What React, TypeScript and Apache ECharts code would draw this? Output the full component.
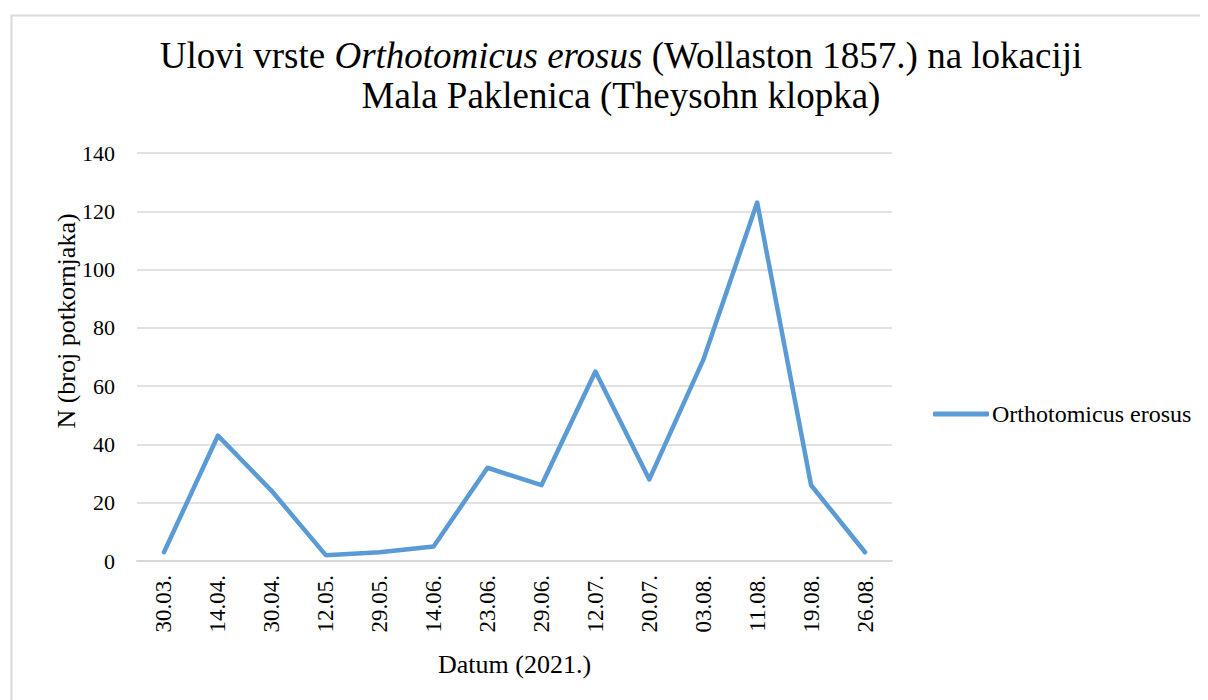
import React, { useEffect, useRef } from "react";
import * as echarts from "echarts";

const categories = ["30.03.", "14.04.", "30.04.", "12.05.", "29.05.", "14.06.", "23.06.", "29.06.", "12.07.", "20.07.", "03.08.", "11.08.", "19.08.", "26.08."];
const values = [3, 43, 24, 2, 3, 5, 32, 26, 65, 28, 69, 123, 26, 3];
const seriesName = "Orthotomicus erosus";
const yTicks = { min: 0, max: 140, interval: 20 };

const FONT = "Liberation Serif";

export default function App() {
  const ref = useRef<HTMLDivElement>(null);
  useEffect(() => {
    if (!ref.current) return;
    const chart = echarts.init(ref.current, undefined, { renderer: "svg" });
    chart.setOption({
      animation: false,
      backgroundColor: "#ffffff",
      textStyle: { fontFamily: FONT },
      title: {
        text: "{n|Ulovi vrste }{i|Orthotomicus erosus}{n| (Wollaston 1857.) na lokaciji}\n{n|Mala Paklenica (Theysohn klopka)}",
        left: 608,
        textAlign: "center",
        top: 22,
        textStyle: {
          fontFamily: FONT,
          fontSize: 37,
          fontWeight: "normal",
          color: "#000",
          lineHeight: 40,
          rich: {
            n: { fontFamily: FONT, fontSize: 37, color: "#000", lineHeight: 40 },
            i: { fontFamily: FONT, fontSize: 37, fontStyle: "italic", color: "#000", lineHeight: 40 },
          },
        },
      },
      legend: {
        left: 920,
        top: 389,
        itemWidth: 56,
        itemHeight: 5,
        itemGap: 4,
        textStyle: { fontFamily: FONT, fontSize: 24, color: "#000", padding: [0, 0, 0, -2] },
        data: [{ name: seriesName, icon: "roundRect" }],
      },
      grid: { left: 129, right: 316, top: 145, bottom: 139, containLabel: false },
      xAxis: {
        type: "category",
        data: categories,
        boundaryGap: true,
        name: "Datum (2021.)",
        nameLocation: "middle",
        nameGap: 90,
        nameTextStyle: { fontFamily: FONT, fontSize: 26, color: "#000" },
        axisLine: { lineStyle: { color: "#d9d9d9", width: 2 } },
        axisTick: { show: false },
        axisLabel: { rotate: 90, fontFamily: FONT, fontSize: 23, color: "#000", margin: 14, interval: 0 },
      },
      yAxis: {
        type: "value",
        min: yTicks.min,
        max: yTicks.max,
        interval: yTicks.interval,
        axisLine: { show: false },
        axisTick: { show: false },
        axisLabel: { fontFamily: FONT, fontSize: 22, color: "#000", margin: 22 },
        splitLine: { lineStyle: { color: "#d9d9d9", width: 1.5 } },
      },
      graphic: [
        {
          type: "rect",
          left: 1,
          top: 5,
          shape: { width: 1400, height: 900 },
          style: { fill: "none", stroke: "#d9d9d9", lineWidth: 2 },
          silent: true,
          z: -10,
        },
        {
          type: "text",
          x: 58,
          y: 313,
          rotation: Math.PI / 2,
          style: {
            text: "N (broj potkornjaka)",
            fontFamily: FONT,
            fontSize: 26,
            fill: "#000",
            align: "center",
            verticalAlign: "middle",
          },
        },
      ],
      series: [
        {
          name: seriesName,
          type: "line",
          data: values,
          showSymbol: false,
          symbol: "none",
          lineStyle: { color: "#5b9bd5", width: 4.5, cap: "round", join: "round" },
          itemStyle: { color: "#5b9bd5" },
        },
      ],
    });
    return () => chart.dispose();
  }, []);
  return <div ref={ref} style={{ width: 1200, height: 692 }} />;
}
